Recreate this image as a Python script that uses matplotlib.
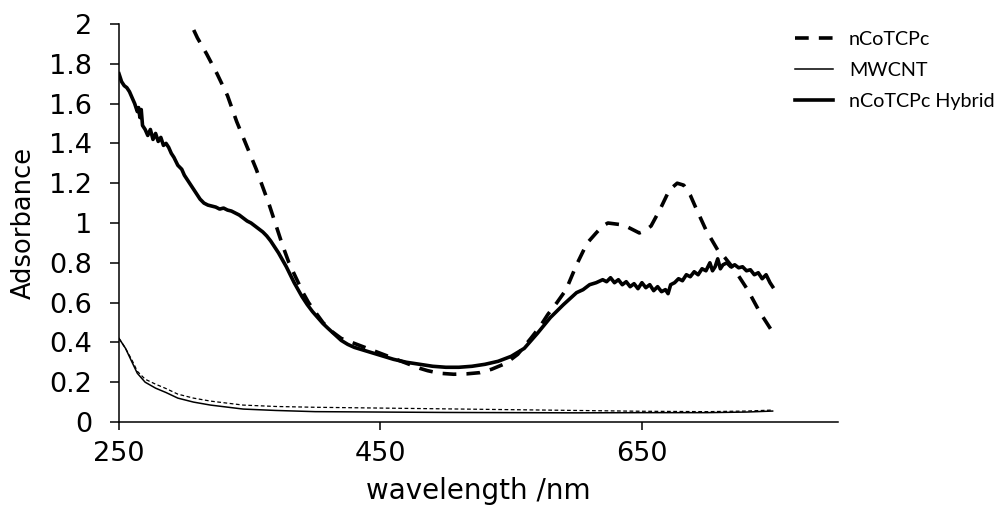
import matplotlib
matplotlib.use("Agg")
import matplotlib.pyplot as plt

# ---------------- data ----------------
hyb_nm = [250,252,254,256,258,260,262,264,265,266,267,268,270,272,274,276,278,280,282,284,286,288,290,
          292,295,298,300,303,306,309,312,315,318,321,324,327,330,333,336,339,342,345,348,351,354,357,
          360,363,366,369,372,375,378,381,384,387,390,394,398,402,406,410,415,420,425,430,440,450,460,
          470,480,490,500,510,520,530,540,550,560,570,580,590,600,605,610,615,620,623,626,629,632,635,
          638,641,644,647,650,653,656,659,662,665,668,670,672,675,678,681,684,687,690,693,696,699,702,
          704,706,708,710,712,715,718,721,724,727,730,733,736,739,742,745,748,750]
hyb_abs = [1.75,1.71,1.69,1.68,1.66,1.63,1.60,1.56,1.58,1.53,1.57,1.49,1.47,1.44,1.47,1.42,1.45,1.41,1.43,
           1.39,1.40,1.38,1.35,1.33,1.29,1.27,1.24,1.21,1.18,1.15,1.12,1.10,1.09,1.085,1.08,1.07,1.075,
           1.065,1.06,1.05,1.04,1.025,1.01,1.00,0.985,0.97,0.955,0.935,0.91,0.88,0.85,0.815,0.78,0.74,
           0.70,0.665,0.63,0.59,0.555,0.525,0.495,0.47,0.44,0.41,0.39,0.375,0.355,0.335,0.315,0.30,0.29,
           0.28,0.275,0.275,0.28,0.29,0.305,0.33,0.37,0.445,0.525,0.59,0.65,0.665,0.69,0.70,0.715,0.705,
           0.725,0.70,0.715,0.69,0.705,0.68,0.695,0.67,0.70,0.675,0.69,0.66,0.68,0.655,0.665,0.645,0.69,
           0.70,0.72,0.71,0.74,0.73,0.755,0.74,0.77,0.76,0.80,0.76,0.78,0.82,0.77,0.79,0.80,0.78,0.79,
           0.775,0.78,0.76,0.765,0.74,0.75,0.72,0.74,0.70,0.68]

pc_nm = [300,305,310,317,325,333,340,345,350,355,360,365,370,375,380,385,391,395,400,406,413,420,430,
         440,450,460,470,480,486,495,506,516,526,535,546,555,565,572,578,585,592,600,608,615,620,624,
         630,636,642,648,652,657,664,671,677,682,687,691,699,708,713,721,731,740,749,750]
pc_abs = [2.08,2.00,1.93,1.85,1.75,1.64,1.51,1.43,1.35,1.27,1.18,1.09,0.99,0.89,0.80,0.73,0.647,0.60,
          0.554,0.50,0.454,0.42,0.395,0.37,0.345,0.32,0.295,0.27,0.258,0.245,0.24,0.242,0.248,0.265,
          0.295,0.34,0.42,0.479,0.54,0.60,0.665,0.79,0.898,0.95,0.985,1.0,0.995,0.99,0.97,0.95,0.96,
          0.985,1.07,1.166,1.20,1.19,1.14,1.08,0.965,0.864,0.83,0.764,0.663,0.554,0.462,0.45]

cnt_nm = [250,255,260,264,270,278,286,295,307,320,345,370,400,450,500,550,600,650,700,730,750]
cnt_abs = [0.42,0.37,0.30,0.245,0.20,0.17,0.148,0.12,0.10,0.085,0.065,0.058,0.052,0.05,0.048,0.047,
           0.046,0.047,0.047,0.05,0.055]

thin_dash_abs = [0.42,0.37,0.31,0.255,0.215,0.19,0.168,0.14,0.12,0.105,0.085,0.078,0.074,0.07,0.066,
                 0.062,0.058,0.054,0.052,0.055,0.06]

x_ticks = [250, 450, 650]
y_ticks = [0, 0.2, 0.4, 0.6, 0.8, 1, 1.2, 1.4, 1.6, 1.8, 2]
y_tick_labels = ["0", "0.2", "0.4", "0.6", "0.8", "1", "1.2", "1.4", "1.6", "1.8", "2"]

# ---------------- figure ----------------
fig = plt.figure(figsize=(10.01, 5.05), dpi=100)
ax = fig.add_axes([119/1001, 1-422/505, (838-119)/1001, (422-24)/505])

ax.plot(pc_nm, pc_abs, color="black", lw=2.6, ls=(0, (3.8, 2.8)), label="nCoTCPc")
ax.plot(cnt_nm, cnt_abs, color="black", lw=1.1, label="MWCNT")
ax.plot(hyb_nm, hyb_abs, color="black", lw=2.6, label="nCoTCPc Hybrid")
ax.plot(cnt_nm, thin_dash_abs, color="black", lw=0.9, ls=(0, (3, 2)))

ax.set_xlim(250, 800)
ax.set_ylim(0, 2)
ax.set_xticks(x_ticks)
ax.set_yticks(y_ticks)
ax.set_yticklabels(y_tick_labels)

for s in ["top", "right"]:
    ax.spines[s].set_visible(False)
for s in ["left", "bottom"]:
    ax.spines[s].set_linewidth(1.1)
    ax.spines[s].set_color("black")

ax.tick_params(axis="both", direction="out", width=1.1, labelsize=19.5, colors="black")
ax.tick_params(axis="y", length=6.5, pad=13)
ax.tick_params(axis="x", length=5.8, pad=8)

ax.set_xlabel("wavelength /nm", fontsize=20, labelpad=7)
ax.set_ylabel("Adsorbance", fontsize=18.5, labelpad=9)

leg = fig.legend(loc="upper left", bbox_to_anchor=(787/1001, 1-23/505), frameon=False,
                 prop={"family": "Lato", "size": 14.2}, handlelength=1.95, handletextpad=0.8,
                 labelspacing=0.72, borderaxespad=0)

fig.savefig("out.png", dpi=100)
